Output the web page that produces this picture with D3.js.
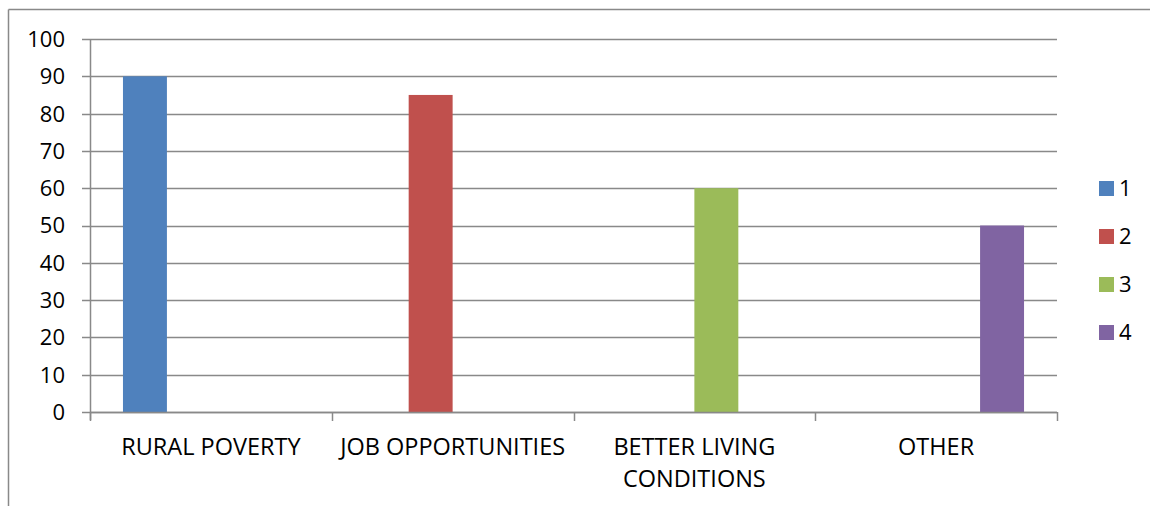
<!DOCTYPE html>
<html><head><meta charset="utf-8">
<script src="https://cdn.jsdelivr.net/npm/d3@7"></script>
<style>body{margin:0;background:#fff}svg{display:block;font-family:"Open Sans",sans-serif}</style>
</head><body><svg id="c" width="1150" height="506"></svg>
<script>
const categories = ["RURAL POVERTY", "JOB OPPORTUNITIES", "BETTER LIVING CONDITIONS", "OTHER"];
const seriesNames = ["1", "2", "3", "4"];
const seriesColors = ["#4f81bd", "#c0504d", "#9bbb59", "#8064a2"];
const series1 = [90, 0, 0, 0];
const series2 = [0, 85, 0, 0];
const series3 = [0, 0, 60, 0];
const series4 = [0, 0, 0, 50];
const yTicks = [0, 10, 20, 30, 40, 50, 60, 70, 80, 90, 100];
const catLines = [["RURAL POVERTY"], ["JOB OPPORTUNITIES"], ["BETTER LIVING", "CONDITIONS"], ["OTHER"]];

const allSeries = [series1, series2, series3, series4];
const svg = d3.select("#c");
const L = 90, R = 1057, T = 39, B = 412;
const grid = "#898989";

// outer border (partial)
svg.append("line").attr("x1", 8.5).attr("x2", 1150).attr("y1", 9.5).attr("y2", 9.5).attr("stroke", grid).attr("stroke-width", 1.5);
svg.append("line").attr("x1", 8.5).attr("x2", 8.5).attr("y1", 9.5).attr("y2", 506).attr("stroke", grid).attr("stroke-width", 1.5);

const y = d3.scaleLinear().domain([0, 100]).range([B, T]);
const x0 = d3.scaleBand().domain(categories).range([L, R]).paddingInner(0).paddingOuter(0);
const bw = x0.bandwidth() / 5.5;
const x1 = d3.scaleBand().domain(seriesNames).range([0.75 * bw, x0.bandwidth() - 0.75 * bw]).padding(0);

// gridlines
svg.append("g").selectAll("line").data(yTicks).join("line")
  .attr("x1", L - 8).attr("x2", R).attr("y1", d => Math.round(y(d)) + 0.5).attr("y2", d => Math.round(y(d)) + 0.5)
  .attr("stroke", grid).attr("stroke-width", 1.5);
// y labels
svg.append("g").selectAll("text").data(yTicks).join("text")
  .attr("x", 65).attr("y", d => y(d)).attr("dy", "0.36em").attr("text-anchor", "end")
  .attr("font-size", 22).attr("fill", "#000").text(d => d);
// y axis line
svg.append("line").attr("x1", L + 0.5).attr("x2", L + 0.5).attr("y1", T).attr("y2", B + 8).attr("stroke", grid).attr("stroke-width", 1.5);

// bars
categories.forEach((c, ci) => {
  allSeries.forEach((s, si) => {
    if (s[ci] > 0) {
      svg.append("rect")
        .attr("x", x0(c) + x1(seriesNames[si])).attr("width", x1.bandwidth())
        .attr("y", y(s[ci])).attr("height", y(0) - y(s[ci]))
        .attr("fill", seriesColors[si]);
    }
  });
});

// x axis
svg.append("line").attr("x1", L).attr("x2", R).attr("y1", B + 0.5).attr("y2", B + 0.5).attr("stroke", grid).attr("stroke-width", 1.5);
const bounds = categories.map(c => x0(c)).concat([R]);
svg.append("g").selectAll("line").data(bounds).join("line")
  .attr("x1", d => Math.round(d) + 0.5).attr("x2", d => Math.round(d) + 0.5).attr("y1", B).attr("y2", B + 9)
  .attr("stroke", grid).attr("stroke-width", 1.5);
categories.forEach((c, ci) => {
  const t = svg.append("text").attr("text-anchor", "middle").attr("font-size", 23.5).attr("fill", "#000");
  catLines[ci].forEach((ln, li) => {
    t.append("tspan").attr("x", x0(c) + x0.bandwidth() / 2).attr("y", 455 + li * 32).text(ln);
  });
});

// legend
const lg = svg.append("g");
seriesNames.forEach((n, i) => {
  const cy = 188 + i * 48;
  lg.append("rect").attr("x", 1099).attr("y", cy - 7).attr("width", 15).attr("height", 15).attr("fill", seriesColors[i]);
  lg.append("text").attr("x", 1119).attr("y", cy).attr("dy", "0.36em").attr("font-size", 22).attr("fill", "#000").text(n);
});
</script></body></html>
